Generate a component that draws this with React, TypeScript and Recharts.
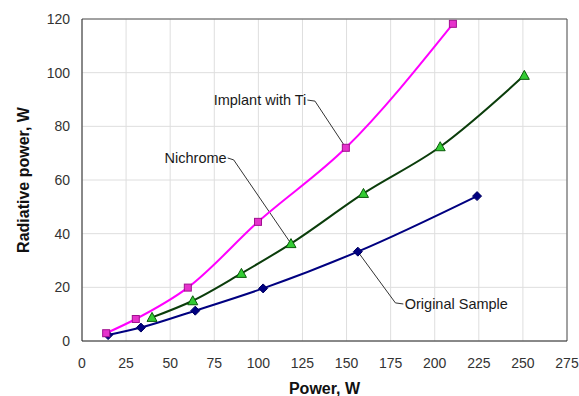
import React from "react";
import {
  LineChart,
  Line,
  XAxis,
  YAxis,
  CartesianGrid,
  ReferenceLine,
  ReferenceDot,
} from "recharts";

const implantX = [13.7, 30.5, 60, 99.8, 149.6, 210.3];
const implantY = [2.9, 8.2, 19.9, 44.4, 72, 118.2];
const nichromeX = [39.7, 62.8, 90.4, 118.5, 159.6, 203.1, 250.8];
const nichromeY = [8.8, 15, 25.2, 36.3, 55, 72.4, 99];
const originalX = [14.8, 33.4, 64.2, 102.7, 156.4, 224];
const originalY = [2.2, 5, 11.3, 19.6, 33.3, 54];

const xTicks = [0, 25, 50, 75, 100, 125, 150, 175, 200, 225, 250, 275];
const yTicks = [0, 20, 40, 60, 80, 100, 120];

const toPts = (xs: number[], ys: number[]) => xs.map((x, i) => ({ x, y: ys[i] }));
const implant = toPts(implantX, implantY);
const nichrome = toPts(nichromeX, nichromeY);
const original = toPts(originalX, originalY);

const FONT = "'Liberation Sans', Arial, sans-serif";

const Square = (props: any) => {
  const { cx, cy } = props;
  if (cx == null || cy == null) return null;
  return <rect x={cx - 3.5} y={cy - 3.5} width={7} height={7} fill="#e633cc" stroke="#a0108f" strokeWidth={1} />;
};
const Triangle = (props: any) => {
  const { cx, cy } = props;
  if (cx == null || cy == null) return null;
  return (
    <polygon
      points={`${cx},${cy - 5} ${cx - 5},${cy + 4} ${cx + 5},${cy + 4}`}
      fill="#33cc33"
      stroke="#0a5a0a"
      strokeWidth={1}
    />
  );
};
const Diamond = (props: any) => {
  const { cx, cy } = props;
  if (cx == null || cy == null) return null;
  return (
    <polygon
      points={`${cx},${cy - 4.5} ${cx + 4.5},${cy} ${cx},${cy + 4.5} ${cx - 4.5},${cy}`}
      fill="#000080"
      stroke="#000060"
      strokeWidth={1}
    />
  );
};

const textLabel = (text: string, anchor: "start" | "end") => (props: any) => {
  const { viewBox } = props;
  const x = viewBox?.x ?? 0;
  const y = viewBox?.y ?? 0;
  return (
    <text x={x} y={y} dy={5} textAnchor={anchor} fontFamily={FONT} fontSize={14.5} fill="#1a1a1a">
      {text}
    </text>
  );
};

export default function App() {
  return (
    <div style={{ position: "absolute", left: 0, top: 0, background: "#fff" }}>
      <LineChart width={579} height={396} margin={{ top: 19, right: 12, bottom: 25, left: 22 }}>
        <CartesianGrid stroke="#dedede" strokeWidth={1} />
        <XAxis
          type="number"
          dataKey="x"
          domain={[0, 275]}
          ticks={xTicks}
          interval={0}
          allowDataOverflow
          height={30}
          stroke="#222"
          tickLine={false}
          tickMargin={11}
          tick={{ fill: "#333", fontSize: 14, fontFamily: FONT }}
          label={{
            value: "Power, W",
            position: "insideBottom",
            offset: -23,
            style: { fontFamily: FONT, fontSize: 16, fontWeight: "bold", fill: "#111" },
          }}
        />
        <YAxis
          type="number"
          dataKey="y"
          domain={[0, 120]}
          ticks={yTicks}
          interval={0}
          allowDataOverflow
          width={60}
          stroke="#222"
          tickLine={false}
          tickMargin={6}
          tick={{ fill: "#333", fontSize: 14, fontFamily: FONT }}
          label={{
            value: "Radiative power, W",
            angle: -90,
            position: "insideLeft",
            offset: 1,
            style: { fontFamily: FONT, fontSize: 16, fontWeight: "bold", fill: "#111", textAnchor: "middle" },
          }}
        />
        <ReferenceLine x={275} stroke="#555" strokeWidth={1} />
        <ReferenceLine y={120} stroke="#555" strokeWidth={1} />

        <ReferenceLine segment={[{ x: 127.8, y: 89.8 }, { x: 132.1, y: 89.4 }]} stroke="#333" />
        <ReferenceLine segment={[{ x: 132.1, y: 89.4 }, { x: 149.6, y: 72 }]} stroke="#333" />
        <ReferenceLine segment={[{ x: 82.6, y: 68.2 }, { x: 86, y: 67.5 }]} stroke="#333" />
        <ReferenceLine segment={[{ x: 86, y: 67.5 }, { x: 118.5, y: 36.3 }]} stroke="#333" />
        <ReferenceLine segment={[{ x: 156.4, y: 33.3 }, { x: 177.7, y: 14.2 }]} stroke="#333" />
        <ReferenceLine segment={[{ x: 177.7, y: 14.2 }, { x: 182.2, y: 13.8 }]} stroke="#333" />

        <Line
          data={original}
          dataKey="y"
          type="monotone"
          stroke="#000080"
          strokeWidth={2}
          dot={<Diamond />}
          isAnimationActive={false}
        />
        <Line
          data={nichrome}
          dataKey="y"
          type="monotone"
          stroke="#0b3d0b"
          strokeWidth={2}
          dot={<Triangle />}
          isAnimationActive={false}
        />
        <Line
          data={implant}
          dataKey="y"
          type="monotone"
          stroke="#ff00ff"
          strokeWidth={2}
          dot={<Square />}
          isAnimationActive={false}
        />

        <ReferenceDot x={127.2} y={89.8} r={0} stroke="none" fill="none" label={textLabel("Implant with Ti", "end")} />
        <ReferenceDot x={82} y={68.2} r={0} stroke="none" fill="none" label={textLabel("Nichrome", "end")} />
        <ReferenceDot x={183} y={13.8} r={0} stroke="none" fill="none" label={textLabel("Original Sample", "start")} />
      </LineChart>
    </div>
  );
}
